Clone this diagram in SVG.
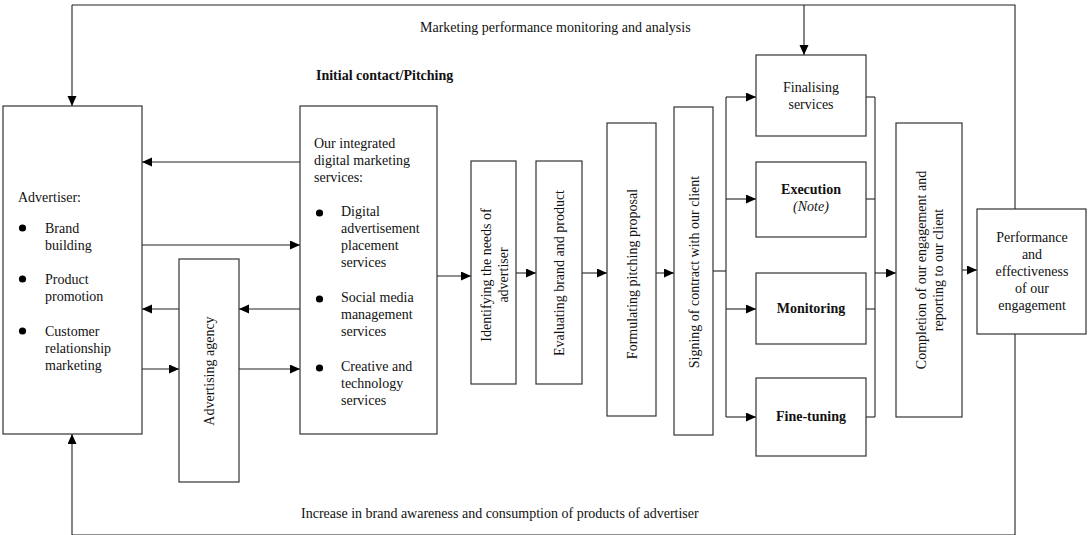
<svg xmlns="http://www.w3.org/2000/svg" width="1088" height="535" viewBox="0 0 1088 535">
  <style>
    text { font-family: "Liberation Serif", "Times New Roman", serif; font-size: 14px; fill: #111; }
    .b { font-weight: bold; }
    .i { font-style: italic; }
    .box { fill: #fff; stroke: #333; stroke-width: 1.2; }
    .ln { fill: none; stroke: #222; stroke-width: 1.1; }
    .arr { fill: none; stroke: #222; stroke-width: 1.1; marker-end: url(#ah); }
    .dot { fill: #000; }
  </style>
  <defs>
    <marker id="ah" markerUnits="userSpaceOnUse" markerWidth="11" markerHeight="10" refX="10" refY="4.5" orient="auto">
      <path d="M0,0 L10,4.5 L0,9 z" fill="#000"/>
    </marker>
  </defs>

  <rect width="1088" height="535" fill="#fff"/>

  <!-- connectors -->
  <g id="connectors">
    <!-- monitoring loop across the top -->
    <polyline class="ln" points="1015,209 1015,5 72,5"/>
    <line class="arr" x1="72" y1="5" x2="72" y2="106"/>
    <line class="arr" x1="804" y1="5" x2="804" y2="55"/>
    <!-- outcome loop along the bottom edge -->
    <polyline class="ln" points="1015,334 1015,535 72,535"/>
    <line class="arr" x1="72" y1="535" x2="72" y2="434"/>

    <!-- advertiser / services / agency -->
    <line class="arr" x1="300" y1="162" x2="142" y2="162"/>
    <line class="arr" x1="142" y1="245" x2="300" y2="245"/>
    <line class="arr" x1="179" y1="309" x2="142" y2="309"/>
    <line class="arr" x1="300" y1="309" x2="239" y2="309"/>
    <line class="arr" x1="142" y1="369" x2="179" y2="369"/>
    <line class="arr" x1="239" y1="369" x2="300" y2="369"/>

    <!-- pitching chain -->
    <line class="arr" x1="437" y1="276" x2="471" y2="276"/>
    <line class="arr" x1="516" y1="273" x2="536" y2="273"/>
    <line class="arr" x1="582" y1="273" x2="607" y2="273"/>
    <line class="arr" x1="656" y1="273" x2="674" y2="273"/>

    <!-- fan-out to service stages -->
    <polyline class="ln" points="713,271 726,271"/>
    <line class="ln" x1="726" y1="97" x2="726" y2="417"/>
    <line class="arr" x1="726" y1="97" x2="756" y2="97"/>
    <line class="arr" x1="726" y1="199" x2="756" y2="199"/>
    <line class="arr" x1="726" y1="309" x2="756" y2="309"/>
    <line class="arr" x1="726" y1="417" x2="756" y2="417"/>

    <!-- fan-in to completion -->
    <line class="ln" x1="866" y1="97" x2="875" y2="97"/>
    <line class="ln" x1="866" y1="199" x2="875" y2="199"/>
    <line class="ln" x1="866" y1="309" x2="875" y2="309"/>
    <line class="ln" x1="866" y1="417" x2="875" y2="417"/>
    <line class="ln" x1="875" y1="97" x2="875" y2="417"/>
    <line class="arr" x1="875" y1="273" x2="896" y2="273"/>
    <line class="arr" x1="955" y1="270" x2="977" y2="270"/>
  </g>

  <!-- loop labels -->
  <text x="420" y="32">Marketing performance monitoring and analysis</text>
  <text x="301" y="518">Increase in brand awareness and consumption of products of advertiser</text>
  <text class="b" x="316" y="80">Initial contact/Pitching</text>

  <g id="advertiser">
    <rect class="box" x="3" y="106" width="139" height="328"/>
    <text x="18" y="202">Advertiser:</text>
    <circle class="dot" cx="22.5" cy="228" r="3.6"/>
    <text x="45"><tspan x="45" y="233">Brand</tspan><tspan x="45" y="250">building</tspan></text>
    <circle class="dot" cx="22.5" cy="279" r="3.6"/>
    <text x="45"><tspan x="45" y="284">Product</tspan><tspan x="45" y="301">promotion</tspan></text>
    <circle class="dot" cx="22.5" cy="331" r="3.6"/>
    <text x="45"><tspan x="45" y="336">Customer</tspan><tspan x="45" y="353">relationship</tspan><tspan x="45" y="370">marketing</tspan></text>
  </g>

  <g id="agency">
    <rect class="box" x="179" y="259" width="60" height="223"/>
    <text transform="translate(209,371) rotate(-90)" text-anchor="middle" y="5">Advertising agency</text>
  </g>

  <g id="services">
    <rect class="box" x="300" y="106" width="137" height="328"/>
    <text><tspan x="314" y="148">Our integrated</tspan><tspan x="314" y="165">digital marketing</tspan><tspan x="314" y="182">services:</tspan></text>
    <circle class="dot" cx="319.5" cy="213" r="3.6"/>
    <text><tspan x="341" y="216">Digital</tspan><tspan x="341" y="233">advertisement</tspan><tspan x="341" y="250">placement</tspan><tspan x="341" y="267">services</tspan></text>
    <circle class="dot" cx="319.5" cy="299" r="3.6"/>
    <text><tspan x="341" y="302">Social media</tspan><tspan x="341" y="319">management</tspan><tspan x="341" y="336">services</tspan></text>
    <circle class="dot" cx="319.5" cy="368" r="3.6"/>
    <text><tspan x="341" y="371">Creative and</tspan><tspan x="341" y="388">technology</tspan><tspan x="341" y="405">services</tspan></text>
  </g>

  <g id="identifying">
    <rect class="box" x="471" y="161" width="45" height="223"/>
    <text transform="translate(493.5,275) rotate(-90)" text-anchor="middle"><tspan x="0" y="-3">Identifying the needs of</tspan><tspan x="0" y="14">advertiser</tspan></text>
  </g>

  <g id="evaluating">
    <rect class="box" x="536" y="161" width="46" height="223"/>
    <text transform="translate(559,273) rotate(-90)" text-anchor="middle" y="5">Evaluating brand and product</text>
  </g>

  <g id="formulating">
    <rect class="box" x="607" y="123" width="49" height="293"/>
    <text transform="translate(631.5,274) rotate(-90)" text-anchor="middle" y="5">Formulating pitching proposal</text>
  </g>

  <g id="signing">
    <rect class="box" x="674" y="107" width="39" height="328"/>
    <text transform="translate(693.5,272) rotate(-90)" text-anchor="middle" y="5">Signing of contract with our client</text>
  </g>

  <g id="finalising">
    <rect class="box" x="756" y="55" width="110" height="81"/>
    <text text-anchor="middle"><tspan x="811" y="92">Finalising</tspan><tspan x="811" y="109">services</tspan></text>
  </g>

  <g id="execution">
    <rect class="box" x="756" y="162" width="110" height="75"/>
    <text class="b" x="811" y="194" text-anchor="middle">Execution</text>
    <text class="i" x="811" y="211" text-anchor="middle">(Note)</text>
  </g>

  <g id="monitoring">
    <rect class="box" x="756" y="273" width="110" height="71"/>
    <text class="b" x="811" y="313" text-anchor="middle">Monitoring</text>
  </g>

  <g id="fine-tuning">
    <rect class="box" x="756" y="378" width="110" height="78"/>
    <text class="b" x="811" y="421" text-anchor="middle">Fine-tuning</text>
  </g>

  <g id="completion">
    <rect class="box" x="896" y="123" width="66" height="294"/>
    <text transform="translate(929,270) rotate(-90)" text-anchor="middle"><tspan x="0" y="-3">Completion of our engagement and</tspan><tspan x="0" y="14">reporting to our client</tspan></text>
  </g>

  <g id="performance">
    <rect class="box" x="977" y="209" width="109" height="125"/>
    <text text-anchor="middle"><tspan x="1032" y="242">Performance</tspan><tspan x="1032" y="259">and</tspan><tspan x="1032" y="276">effectiveness</tspan><tspan x="1032" y="293">of our</tspan><tspan x="1032" y="310">engagement</tspan></text>
  </g>
</svg>
